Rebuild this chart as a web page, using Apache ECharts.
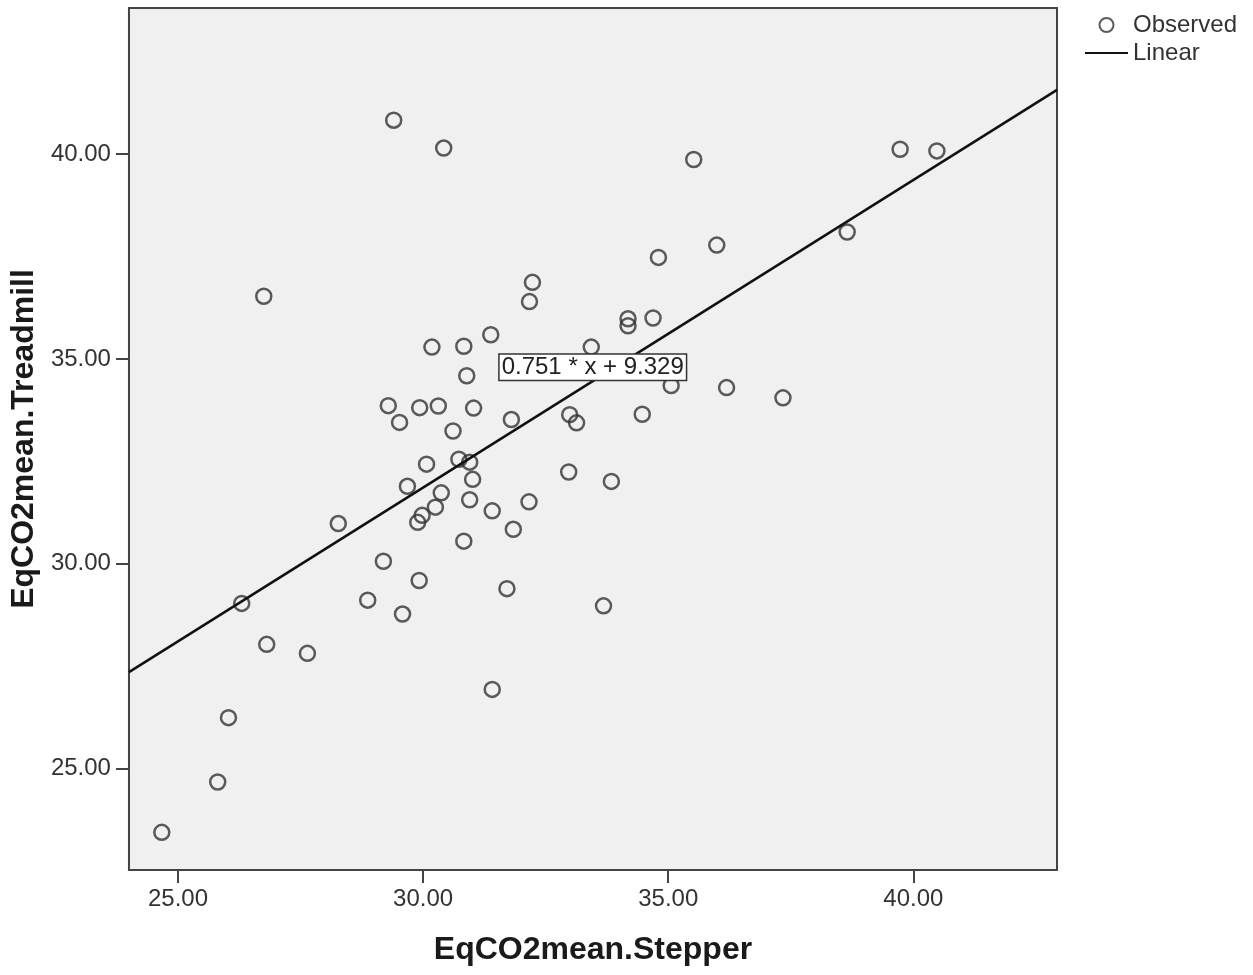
<!DOCTYPE html>
<html>
<head>
<meta charset="utf-8">
<title>EqCO2mean Stepper vs Treadmill</title>
<script src="https://cdn.jsdelivr.net/npm/echarts@6/dist/echarts.min.js"></script>
<style>
  html, body { margin: 0; padding: 0; background: #fff; }
  #chart { width: 1253px; height: 975px; }
</style>
</head>
<body>
<div id="chart"></div>
<script>
var stepper = [
  29.40, 30.42, 35.52, 39.73, 40.48, 35.99, 34.80, 38.65, 26.75, 32.23,
  32.17, 34.18, 34.18, 34.69, 31.38, 30.18, 30.83, 33.43, 30.89, 35.06,
  36.19, 37.34, 29.29, 29.93, 30.31, 31.03, 29.52, 31.80, 32.99, 33.13,
  34.47, 30.61, 30.73, 30.95, 30.07, 31.01, 32.97, 33.84, 29.68, 30.37,
  30.95, 30.25, 29.98, 29.89, 32.16, 31.41, 28.27, 30.83, 31.84, 29.19,
  29.92, 28.87, 29.58, 31.71, 33.68, 26.30, 26.81, 27.64, 31.41, 26.03,
  25.81, 24.67
];
var treadmill = [
  40.83, 40.15, 39.87, 40.12, 40.08, 37.78, 37.48, 38.10, 36.53, 36.87,
  36.40, 35.98, 35.81, 36.00, 35.59, 35.29, 35.31, 35.29, 34.59, 34.35,
  34.30, 34.05, 33.86, 33.81, 33.85, 33.80, 33.45, 33.52, 33.64, 33.44,
  33.65, 33.24, 32.55, 32.48, 32.43, 32.06, 32.24, 32.01, 31.89, 31.73,
  31.56, 31.38, 31.18, 31.01, 31.51, 31.29, 30.98, 30.55, 30.84, 30.06,
  29.59, 29.11, 28.77, 29.39, 28.97, 29.03, 28.03, 27.81, 26.93, 26.24,
  24.67, 23.44
];

// axis ticks
var xTicks = [25, 30, 35, 40];
var yTicks = [25, 30, 35, 40];

// axis range
var xMin = 24.0, xMax = 42.93;
var yMin = 22.52, yMax = 43.57;

// linear fit from the chart
var slope = 0.751;
var intercept = 9.329;
var fitLabel = '0.751 * x + 9.329';
var labelAt = [33.46, 34.80];

var font = 'Liberation Sans, Arial, sans-serif';

var points = stepper.map(function (v, i) { return [v, treadmill[i]]; });
var fitLine = [
  [xMin, slope * xMin + intercept],
  [xMax, slope * xMax + intercept]
];

var chart = echarts.init(document.getElementById('chart'), null, { renderer: 'canvas' });

var option = {
  animation: false,
  backgroundColor: '#ffffff',
  textStyle: { fontFamily: font },
  grid: {
    left: 128, top: 8, right: 196, bottom: 105,
    show: true,
    backgroundColor: '#f0f0f0',
    borderColor: '#444',
    borderWidth: 2
  },
  legend: {
    orient: 'vertical',
    left: 1079, top: 8,
    itemWidth: 43, itemHeight: 14, itemGap: 4,
    textStyle: { fontSize: 24, color: '#333', fontFamily: font },
    data: ['Observed', 'Linear']
  },
  xAxis: {
    type: 'value',
    min: xMin, max: xMax,
    name: 'EqCO2mean.Stepper',
    nameLocation: 'middle',
    nameGap: 64,
    nameTextStyle: { fontSize: 32, fontWeight: 'bold', color: '#1a1a1a', fontFamily: font },
    axisLine: { show: true, onZero: false, lineStyle: { color: '#444', width: 2 } },
    axisTick: { show: true, length: 13, customValues: xTicks, lineStyle: { color: '#444', width: 2 } },
    axisLabel: {
      customValues: xTicks, margin: 17, fontSize: 24, color: '#333',
      formatter: function (v) { return v.toFixed(2); }
    },
    splitLine: { show: false }
  },
  yAxis: {
    type: 'value',
    min: yMin, max: yMax,
    name: 'EqCO2mean.Treadmill',
    nameLocation: 'middle',
    nameGap: 86,
    nameTextStyle: { fontSize: 32, fontWeight: 'bold', color: '#1a1a1a', fontFamily: font },
    axisLine: { show: true, onZero: false, lineStyle: { color: '#444', width: 2 } },
    axisTick: { show: true, length: 13, customValues: yTicks, lineStyle: { color: '#444', width: 2 } },
    axisLabel: {
      customValues: yTicks, margin: 18, fontSize: 24, color: '#333',
      formatter: function (v) { return v.toFixed(2); }
    },
    splitLine: { show: false }
  },
  series: [
    {
      name: 'Observed',
      type: 'scatter',
      data: points,
      symbol: 'circle',
      symbolSize: 15,
      itemStyle: { color: 'rgba(0,0,0,0)', borderColor: '#333', borderWidth: 2.5 },
      z: 3
    },
    {
      name: 'Linear',
      type: 'line',
      data: fitLine,
      symbol: 'none',
      lineStyle: { color: '#111', width: 2.5 },
      itemStyle: { color: 'rgba(0,0,0,0)', borderWidth: 0 },
      z: 4,
      markPoint: {
        symbol: 'rect',
        symbolSize: 1,
        itemStyle: { color: 'rgba(0,0,0,0)' },
        label: {
          show: true,
          position: 'inside',
          formatter: fitLabel,
          fontSize: 24,
          color: '#222',
          backgroundColor: '#fff',
          borderColor: '#333',
          borderWidth: 1.5,
          padding: [1, 2, 0, 2]
        },
        data: [{ coord: labelAt }],
        z: 10
      }
    }
  ]
};

chart.setOption(option);
</script>
</body>
</html>
